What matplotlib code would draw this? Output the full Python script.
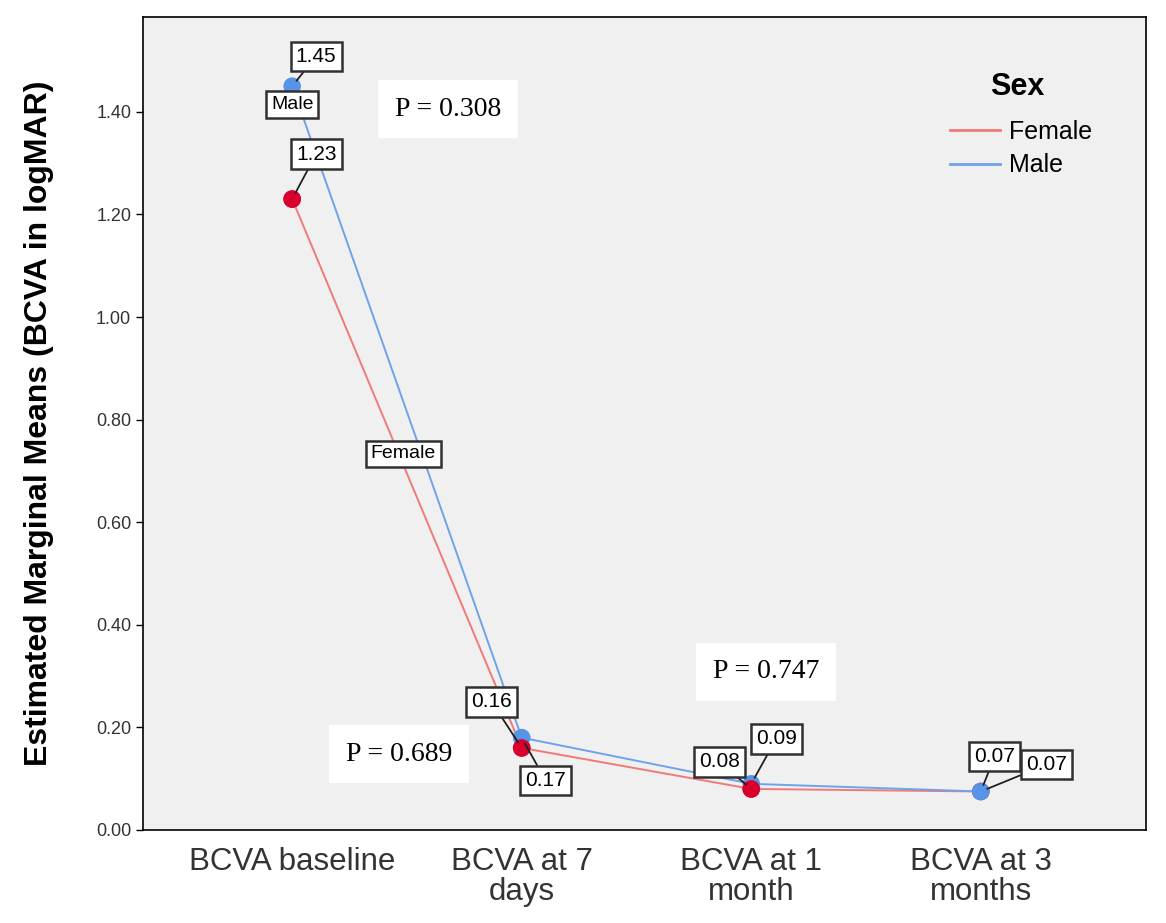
import matplotlib
matplotlib.use("Agg")
import matplotlib.pyplot as plt
from matplotlib.lines import Line2D

plt.rcParams['font.family'] = ['Liberation Sans', 'DejaVu Sans']

# data
times = ["BCVA baseline", "BCVA at 7\ndays", "BCVA at 1\nmonth", "BCVA at 3\nmonths"]
female = [1.23, 0.16, 0.08, 0.075]
male = [1.45, 0.18, 0.09, 0.075]
female_labels = ["1.23", "0.16", "0.08", "0.07"]
male_labels = ["1.45", "0.17", "0.09", "0.07"]
p_texts = ["P = 0.308", "P = 0.689", "P = 0.747"]

# label offsets in pixels (dx, dy) from each point
female_off = [(24, 45), (-30, 46), (-32, 27), (14, 35)]
male_off = [(24, 30), (24, -43), (25, 45), (66, 27)]

fig = plt.figure(figsize=(11.66, 9.23), dpi=100)
ax = fig.add_axes([0.1226, 0.1008, 0.8603, 0.8808])
ax.set_facecolor('#f0f0f0')

x = list(range(len(times)))
ax.plot(x, female, color='#ef7a7a', lw=1.4, zorder=2)
ax.plot(x, male, color='#6ea3ea', lw=1.4, zorder=2)
ax.scatter(x, female, s=160, color='#d9002e', zorder=3, edgecolors='none')
ax.scatter(x, male, s=160, color='#5594e6', zorder=3, edgecolors='none')
ax.scatter(x[:3], female[:3], s=160, color='#d9002e', zorder=4, edgecolors='none')

box = dict(boxstyle='square,pad=0.25', fc='white', ec='#303030', lw=1.8)
arrow = dict(arrowstyle='-', color='#202020', lw=1.3, shrinkA=0, shrinkB=5)


def label(xi, yi, txt, off):
    ax.annotate(txt, (xi, yi), xytext=off, textcoords='offset pixels',
                ha='center', va='center', fontsize=15, bbox=box,
                arrowprops=arrow, zorder=5)


for i in x:
    label(i, female[i], female_labels[i], female_off[i])
    label(i, male[i], male_labels[i], male_off[i])

# series name labels
ax.annotate("Male", (0, male[0]), xytext=(0, -18), textcoords='offset pixels',
            ha='center', va='center', fontsize=14, bbox=box, zorder=5)
ax.text(0.485, 0.733, "Female", ha='center', va='center', fontsize=14,
        bbox=box, zorder=5)

# p-value boxes
pbox = dict(boxstyle='square,pad=0.6', fc='white', ec='none')
p_pos = [(0.68, 1.405), (0.465, 0.148), (2.065, 0.308)]
for (px, py), t in zip(p_pos, p_texts):
    ax.text(px, py, t, family='Liberation Serif', fontsize=20,
            ha='center', va='center', bbox=pbox, zorder=5)

ax.set_xlim(-0.65, 3.72)
ax.set_ylim(0, 1.585)
ax.set_xticks(x)
ax.set_xticklabels(times, fontsize=22.5, color='#333333', linespacing=1.0)
ax.set_yticks([0, 0.2, 0.4, 0.6, 0.8, 1.0, 1.2, 1.4])
ax.set_yticklabels(["%.2f" % v for v in ax.get_yticks()], fontsize=13, color='#333333')
ax.tick_params(axis='x', length=0, pad=12)
ax.tick_params(axis='y', length=5, width=1, direction='out')
for s in ax.spines.values():
    s.set_color('black')
    s.set_linewidth(1.2)

ax.set_ylabel("Estimated Marginal Means (BCVA in logMAR)", fontsize=23,
              fontweight='bold', labelpad=30)

# legend
ax.text(0.872, 0.914, "Sex", transform=ax.transAxes, fontsize=22,
        fontweight='bold', ha='center', va='center')
handles = [Line2D([], [], color='#ef7a7a', lw=2),
           Line2D([], [], color='#6ea3ea', lw=2)]
ax.legend(handles, ["Female", "Male"], loc='center left',
          bbox_to_anchor=(0.805, 0.838), frameon=False, fontsize=18,
          borderaxespad=0, borderpad=0, handlelength=2.0,
          handletextpad=0.35, labelspacing=0.38)

fig.savefig("out.png", dpi=100, facecolor='white')
